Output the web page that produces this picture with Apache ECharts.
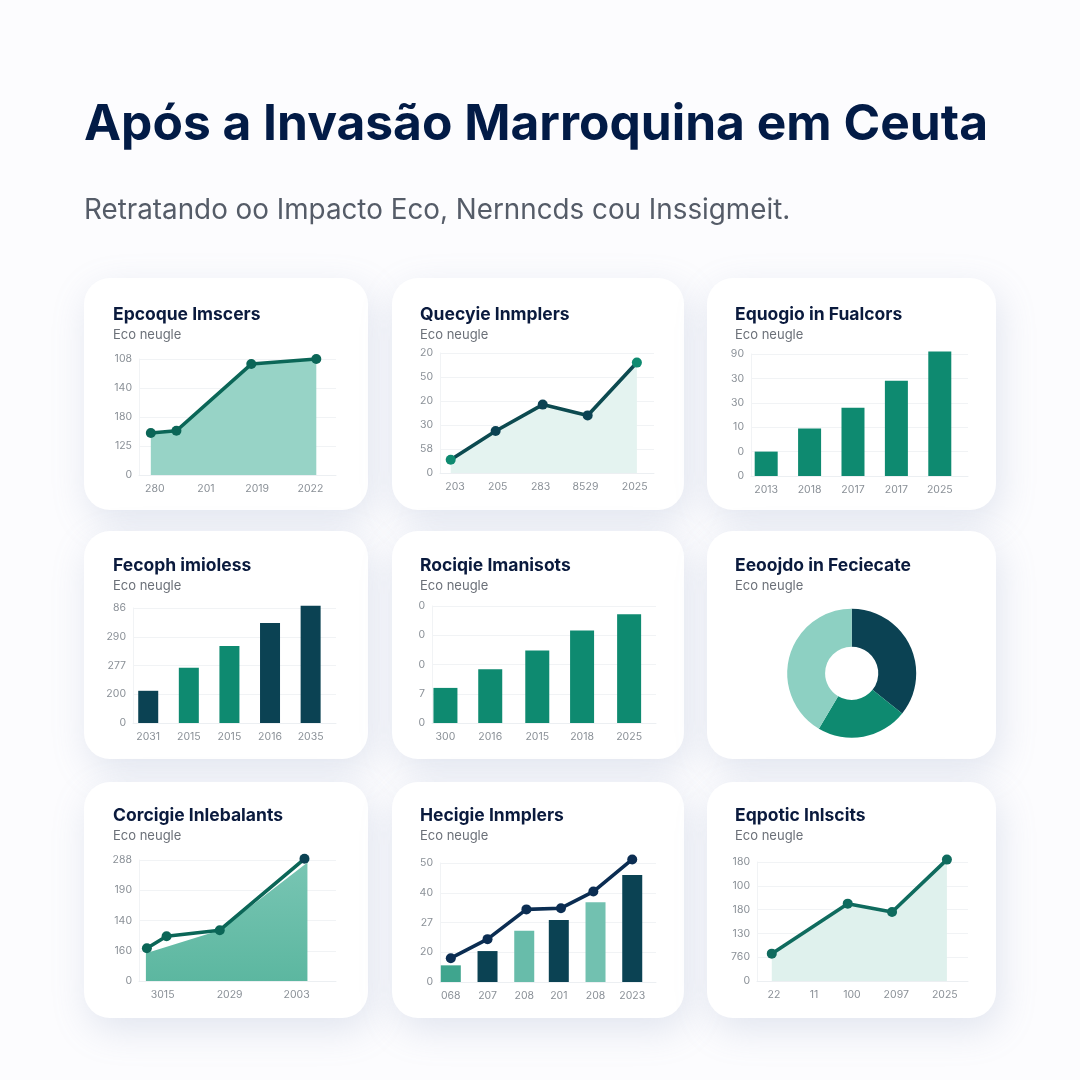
<!DOCTYPE html>
<html lang="pt">
<head>
<meta charset="utf-8">
<title>Após a Invasão Marroquina em Ceuta</title>
<style>
  html, body { margin: 0; padding: 0; background: #fcfcfe; }
  #chart-container { width: 1080px; height: 1080px; }
</style>
</head>
<body>
<div id="chart-container"></div>
<script src="https://cdn.jsdelivr.net/npm/echarts@6/dist/echarts.min.js"></script>
<script>
// ************************************************* //
// * +++++++++++ Data ++++++++++++ * //
// ************************************************* //

var mainTitle = 'Após a Invasão Marroquina em Ceuta';
var mainSubtitle = 'Retratando oo Impacto Eco, Nernncds cou Inssigmeit.';
var cardSubtitle = 'Eco neugle';
var cardTitles = [
  'Epcoque Imscers', 'Quecyie Inmplers', 'Equogio in Fualcors',
  'Fecoph imioless', 'Rociqie Imanisots', 'Eeoojdo in Feciecate',
  'Corcigie Inlebalants', 'Hecigie Inmplers', 'Eqpotic Inlscits'
];

// x positions are read as percent of each plot's width, y values as percent of its height
var x1 = [6, 19, 57, 90];
var y1 = [58, 61, 153, 160];
var x1Ticks = [8, 34, 60, 87];
var x1Labels = ['280', '201', '2019', '2022'];
var y1Labels = ['0', '125', '180', '140', '108'];

var x2 = [5, 26, 48, 69, 92];
var y2 = [11, 35, 57, 48, 92];
var x2Ticks = [7, 27, 47, 68, 91];
var x2Labels = ['203', '205', '283', '8529', '2025'];
var y2Labels = ['0', '58', '30', '20', '50', '20'];

var x3 = [7, 27, 47, 67, 87];
var y3 = [20, 39, 56, 78, 102];
var x3Labels = ['2013', '2018', '2017', '2017', '2025'];
var y3Labels = ['0', '0', '10', '30', '30', '90'];

var x4 = [7.5, 27.5, 47.5, 67.5, 87.5];
var y4 = [28, 48, 67, 87, 102];
var x4Labels = ['2031', '2015', '2015', '2016', '2035'];
var y4Labels = ['0', '200', '277', '290', '86'];

var x5 = [6, 26, 47, 67, 88];
var y5 = [30, 46, 62, 79, 93];
var x5Labels = ['300', '2016', '2015', '2018', '2025'];
var y5Labels = ['0', '7', '0', '0', '0'];

var pieNames = ['Eco', 'Nern', 'Insig'];
var pieValues = [35.7, 22.8, 41.5];

var x7 = [4, 14, 41, 84];
var y7 = [27, 37, 42, 101];
var x7Area = [3.5, 41, 85.5];
var y7Area = [23, 42, 98];
var x7Ticks = [12, 46, 80];
var x7Labels = ['3015', '2029', '2003'];
var y7Labels = ['0', '160', '140', '190', '288'];

var x8Bars = [5, 22, 39, 55, 72, 89];
var y8Bars = [14, 26, 43, 52, 67, 90];
var x8Line = [5, 22, 40, 56, 71, 89];
var y8Line = [20, 36, 61, 62, 76, 103];
var x8Labels = ['068', '207', '208', '201', '208', '2023'];
var y8Labels = ['0', '20', '27', '40', '50'];

var x9 = [7, 43, 64, 90];
var y9 = [23, 65, 58, 102];
var x9Ticks = [8, 27, 45, 66, 89];
var x9Labels = ['22', '11', '100', '2097', '2025'];
var y9Labels = ['0', '760', '130', '180', '100', '180'];

// ************************************************* //
// * +++++++++++ Layout and colours ++++++++++++ * //
// ************************************************* //

var GREEN = '#0e8a70';
var PETROL = '#0b4253';
var NAVY = '#0b2d52';
var LINE_GREEN = '#0b6657';
var FONT = 'Inter, "Noto Sans", sans-serif';

var cardColumns = [[84, 284], [392, 292], [707, 289]];
var cardRows = [[278, 232], [531, 228], [782, 236]];
var titleTops = [306, 557, 807];

// [left, top, right, bottom] of each plot in page pixels
var plotBoxes = [
  [139, 359, 336, 475], [440, 353, 654, 473], [751, 354, 968, 476],
  [133, 608, 336, 723], [432, 606, 656, 723],
  [139, 860, 336, 981], [440, 863, 656, 982], [757, 862, 968, 981]
];

function grid(b) {
  return { left: b[0], top: b[1], width: b[2] - b[0], height: b[3] - b[1] };
}

function xAxis(i, ticks, labels) {
  return {
    type: 'value', gridIndex: i, min: 0, max: 100,
    splitLine: { show: false },
    axisTick: { show: false },
    axisLine: { show: true, lineStyle: { color: '#eceff2' } },
    axisLabel: {
      customValues: ticks,
      margin: 8, fontSize: 10.5, color: '#8a9097', fontFamily: FONT,
      formatter: function (v) { return labels[ticks.indexOf(v)]; }
    }
  };
}

function yAxis(i, max, labels) {
  var step = max / (labels.length - 1);
  return {
    type: 'value', gridIndex: i, min: 0, max: max, interval: step,
    splitLine: { lineStyle: { color: '#f1f3f5' } },
    axisTick: { show: false },
    axisLine: { show: true, lineStyle: { color: '#f1f3f5' } },
    axisLabel: {
      margin: 7, fontSize: 10.5, color: '#8a9097', fontFamily: FONT,
      formatter: function (v) { return labels[Math.round(v / step)]; }
    }
  };
}

function pairs(xs, ys) {
  return xs.map(function (x, k) { return [x, ys[k]]; });
}

function lineSeries(i, xs, ys, color, fill, dotColors) {
  return {
    type: 'line', xAxisIndex: i, yAxisIndex: i, clip: false, z: 4,
    data: pairs(xs, ys).map(function (p, k) {
      return { value: p, itemStyle: { color: dotColors ? dotColors[k] : color } };
    }),
    symbol: 'circle', symbolSize: 10,
    lineStyle: { color: color, width: 3.6 },
    areaStyle: fill ? { color: fill, opacity: 1 } : undefined
  };
}

function areaOnly(i, xs, ys, fill) {
  return {
    type: 'line', xAxisIndex: i, yAxisIndex: i, clip: false, z: 3,
    data: pairs(xs, ys),
    symbol: 'none',
    lineStyle: { width: 0 },
    areaStyle: { color: fill, opacity: 1 }
  };
}

function barSeries(i, xs, ys, width, colors) {
  return {
    type: 'bar', xAxisIndex: i, yAxisIndex: i, clip: false, barWidth: width,
    data: pairs(xs, ys).map(function (p, k) {
      return { value: p, itemStyle: { color: colors[k % colors.length] } };
    })
  };
}

// ************************************************* //
// * +++++++++++ Texts and cards ++++++++++++ * //
// ************************************************* //

var titles = [
  { text: mainTitle, left: 84, top: 100, padding: 0, textStyle: { fontSize: 49.7, fontWeight: 700, color: '#021b46', fontFamily: FONT } },
  { text: mainSubtitle, left: 84, top: 197, padding: 0, textStyle: { fontSize: 27.8, fontWeight: 400, color: '#555c68', fontFamily: FONT } }
];
var cards = [];

cardRows.forEach(function (row, r) {
  cardColumns.forEach(function (col, c) {
    var i = r * 3 + c;
    var textLeft = col[0] + (c === 0 ? 29 : 28);
    titles.push({ text: cardTitles[i], left: textLeft, top: titleTops[r], padding: 0, textStyle: { fontSize: 17.5, fontWeight: 700, color: '#0a1a3d', fontFamily: FONT } });
    titles.push({ text: cardSubtitle, left: textLeft, top: titleTops[r] + 23, padding: 0, textStyle: { fontSize: 13, fontWeight: 400, color: '#6b7078', fontFamily: FONT } });
    cards.push({
      type: 'rect', z: 0,
      shape: { x: col[0], y: row[0], width: col[1], height: row[1], r: 26 },
      style: { fill: '#ffffff', shadowBlur: 36, shadowOffsetX: 4, shadowOffsetY: 12, shadowColor: 'rgba(130,150,185,0.22)' }
    });
  });
});

// ************************************************* //
// * +++++++++++ Chart ++++++++++++ * //
// ************************************************* //

var dom = document.getElementById('chart-container');
var myChart = echarts.init(dom, null, { renderer: 'canvas' });

var option = {
  animation: false,
  backgroundColor: '#fcfcfe',
  title: titles,
  graphic: cards,
  grid: plotBoxes.map(grid),
  xAxis: [
    xAxis(0, x1Ticks, x1Labels),
    xAxis(1, x2Ticks, x2Labels),
    xAxis(2, x3, x3Labels),
    xAxis(3, x4, x4Labels),
    xAxis(4, x5, x5Labels),
    xAxis(5, x7Ticks, x7Labels),
    xAxis(6, x8Bars, x8Labels),
    xAxis(7, x9Ticks, x9Labels)
  ],
  yAxis: [
    yAxis(0, 160, y1Labels),
    yAxis(1, 100, y2Labels),
    yAxis(2, 100, y3Labels),
    yAxis(3, 100, y4Labels),
    yAxis(4, 100, y5Labels),
    yAxis(5, 100, y7Labels),
    yAxis(6, 100, y8Labels),
    yAxis(7, 100, y9Labels)
  ],
  series: [
    lineSeries(0, x1, y1, LINE_GREEN, '#97d3c6'),
    lineSeries(1, x2, y2, '#0c4a50', '#e4f3f0', [GREEN, PETROL, PETROL, PETROL, GREEN]),
    barSeries(2, x3, y3, 23, [GREEN]),
    barSeries(3, x4, y4, 20, [PETROL, GREEN, GREEN, PETROL, PETROL]),
    barSeries(4, x5, y5, 24, [GREEN]),
    areaOnly(5, x7Area, y7Area, {
      type: 'linear', x: 0, y: 0, x2: 0, y2: 1,
      colorStops: [{ offset: 0, color: '#78c5b3' }, { offset: 1, color: '#5cb7a0' }]
    }),
    lineSeries(5, x7, y7, LINE_GREEN, null, [LINE_GREEN, LINE_GREEN, LINE_GREEN, PETROL]),
    barSeries(6, x8Bars, y8Bars, 20, ['#3fa58e', PETROL, '#68bcaa', PETROL, '#72c1b0', PETROL]),
    lineSeries(6, x8Line, y8Line, NAVY, null),
    lineSeries(7, x9, y9, '#0f6b5e', '#dff1ed'),
    {
      type: 'pie',
      center: [851.7, 673.3],
      radius: [26.6, 64.5],
      startAngle: 90,
      clockwise: true,
      label: { show: false },
      labelLine: { show: false },
      data: pieNames.map(function (name, k) {
        return { name: name, value: pieValues[k], itemStyle: { color: [PETROL, GREEN, '#8dd0c2'][k] } };
      })
    }
  ]
};

myChart.setOption(option);
</script>
</body>
</html>
